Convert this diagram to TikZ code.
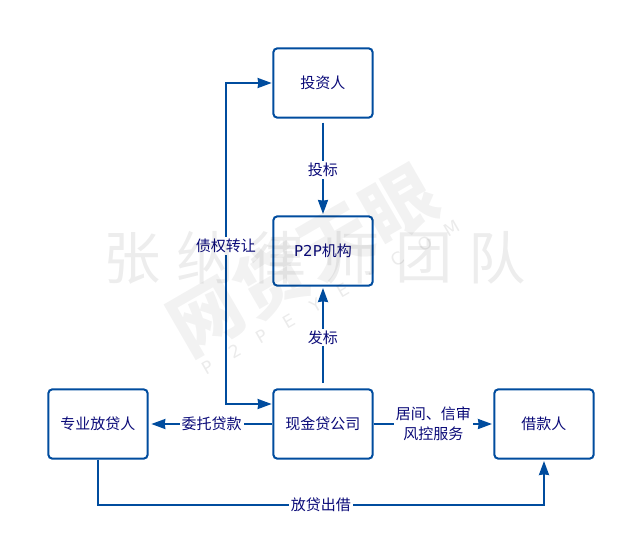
\documentclass[tikz,border=0pt]{standalone}
\usepackage{fontspec}
\setmainfont{DejaVu Sans}
\newfontfamily\cjk{Noto Sans CJK SC}
\usetikzlibrary{positioning, arrows.meta}
\definecolor{flowblue}{RGB}{0,76,158}
\definecolor{labelnavy}{RGB}{10,10,120}

\begin{document}
\begin{tikzpicture}[font=\fontsize{11.25pt}{14pt}\selectfont, >={Stealth[length=10.5pt,width=7.5pt,inset=0.5pt]},
       party/.style={draw=flowblue, rounded corners=3pt, line width=1.5pt, text=labelnavy,
                   minimum width=74.5pt, minimum height=52pt, inner sep=0pt},
       flow/.style={draw=flowblue, line width=1.5pt},
       lbl/.style={text=labelnavy, fill=white, align=center, inner sep=1.5pt,
                   font=\fontsize{11.25pt}{15pt}\selectfont\cjk},
       markwide/.style={text=black, opacity=0.07, inner sep=0pt, font=\fontsize{43pt}{43pt}\selectfont\cjk},
       markbold/.style={text=black, opacity=0.05, inner sep=0pt, rotate=30, font=\fontsize{54pt}{54pt}\selectfont\cjk\bfseries},
       markthin/.style={text=black, opacity=0.08, inner sep=0pt, rotate=30, font=\fontsize{13pt}{13pt}\selectfont}]
     \useasboundingbox (-242.25pt,62.25pt) rectangle (227.25pt,-340.5pt);
     \node[party] (investor) at (0,0) {\cjk 投资人};
     \node[party, below=72.5pt of investor] (platform) {P2P{\cjk 机构}};
     \node[party, below=76.25pt of platform] (cash) {\cjk 现金贷公司};
     \node[party, left=92.75pt of cash] (lender) {\cjk 专业放贷人};
     \node[party, right=89.75pt of cash] (borrower) {\cjk 借款人};
     \coordinate[left=34.75pt of investor.west] (railtop);
     \coordinate (cashin) at ([yshift=15pt]cash.west);
     \coordinate[left=34.75pt of cashin] (railbot);
     \coordinate[below=34pt of lender.south] (lendlow);
     \draw[->, flow, shorten <=3pt, shorten >=1pt] (investor) -- (platform)
        node[pos=0.53, lbl] {投标};
     \draw[->, flow, shorten <=4pt, shorten >=1pt] (cash) -- (platform)
        node[midway, lbl] {发标};
     \draw[<->, flow, shorten <=0.5pt, shorten >=0.5pt] (investor.west) -- (railtop) -- (railbot) -- (cashin);
     \node[lbl] (transfer) at ([yshift=-122pt]railtop) {债权转让};
     \draw[->, flow, shorten >=2pt] (cash) -- (lender)
        node[pos=0.49, lbl] {委托贷款};
     \draw[->, flow, shorten >=1pt] (cash) -- (borrower)
        node[midway, lbl] {居间、信审\\风控服务};
     \draw[->, flow, shorten >=1pt] (lender.south) -- (lendlow) -| (borrower.south)
        node[pos=0.25, lbl] {放贷出借};
     % watermark
     \begin{scope}[x=0.75pt, y=-0.75pt, shift={(-242.25pt,62.25pt)}]
       \foreach \ch [count=\i] in {张,纳,律,师,团,队}
         \node[markwide] (wide\i) at ({59+73*\i},258) {\ch};
       \foreach \ch [count=\i] in {网,贷,天,眼}
         \node[markbold] (bold\i) at ({207+64.3*(\i-1)},{317-37.3*(\i-1)}) {\ch};
       \foreach \ch [count=\i] in {P,2,P,E,Y,E,.,C,O,M}
         \node[markthin] (thin\i) at ({208+27.1*(\i-1)},{367-15.4*(\i-1)}) {\ch};
     \end{scope}
   \end{tikzpicture}
\end{document}
